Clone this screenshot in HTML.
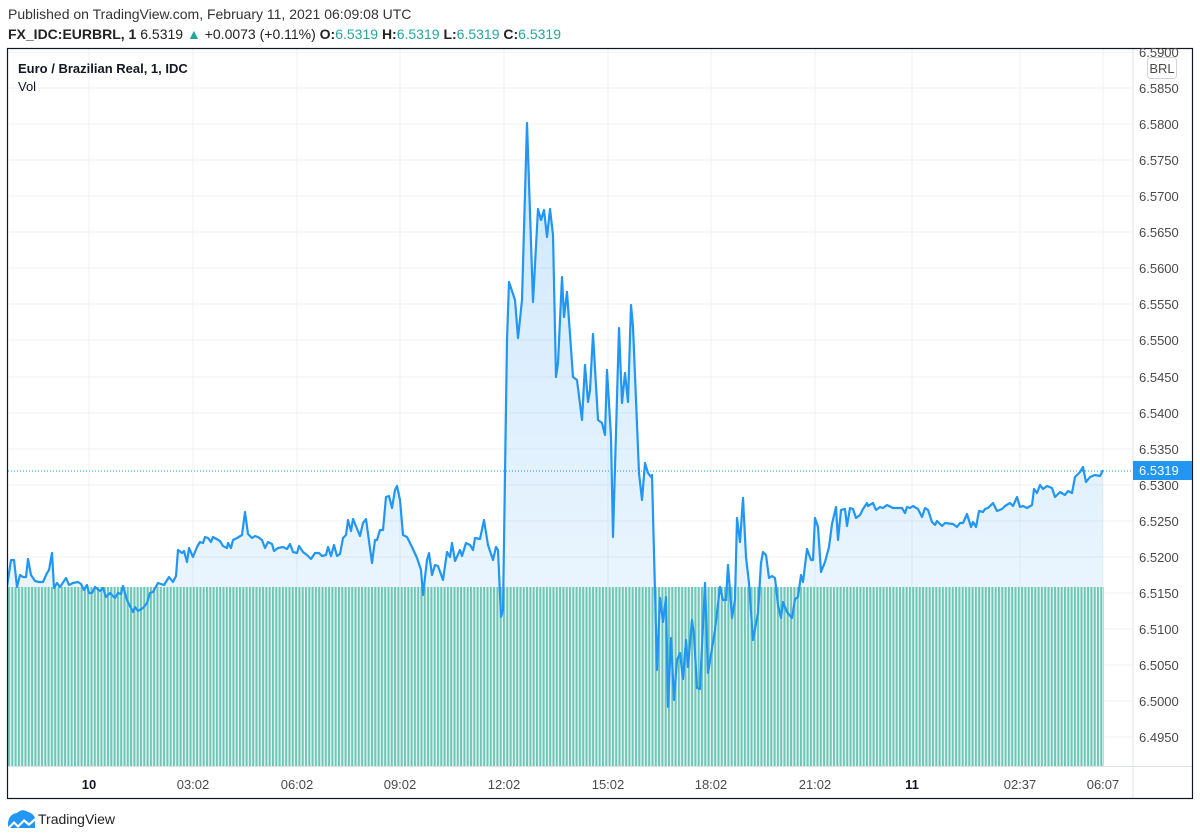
<!DOCTYPE html>
<html><head><meta charset="utf-8"><style>
html,body{margin:0;padding:0;background:#fff;}
svg{display:block;font-family:"Liberation Sans",Arial,sans-serif;}
</style></head><body>
<svg width="1200" height="840" viewBox="0 0 1200 840" xmlns="http://www.w3.org/2000/svg">
<defs>
<linearGradient id="fg" x1="0" y1="0" x2="0" y2="1" gradientUnits="userSpaceOnUse" x1a="0">
<stop offset="0" stop-color="#2196f3" stop-opacity="0.2"/>
<stop offset="1" stop-color="#2196f3" stop-opacity="0.05"/>
</linearGradient>
<linearGradient id="fg2" x1="0" y1="120" x2="0" y2="766" gradientUnits="userSpaceOnUse">
<stop offset="0" stop-color="#2196f3" stop-opacity="0.22"/>
<stop offset="1" stop-color="#2196f3" stop-opacity="0.05"/>
</linearGradient>
<pattern id="vp" x="8" y="0" width="3.3" height="10" patternUnits="userSpaceOnUse">
<rect x="0" y="0" width="2" height="10" fill="#6fc6b6"/>
</pattern>
<clipPath id="cp"><rect x="8" y="49" width="1125" height="718"/></clipPath>
</defs>
<text x="8" y="19" font-size="14" fill="#333">Published on TradingView.com, February 11, 2021 06:09:08 UTC</text>
<text x="8" y="39" font-size="14" fill="#222"><tspan font-weight="bold">FX_IDC:EURBRL, 1</tspan> 6.5319 <tspan fill="#26a69a">▲</tspan> +0.0073 (+0.11%) <tspan font-weight="bold">O:</tspan><tspan fill="#26a69a">6.5319</tspan> <tspan font-weight="bold">H:</tspan><tspan fill="#26a69a">6.5319</tspan> <tspan font-weight="bold">L:</tspan><tspan fill="#26a69a">6.5319</tspan> <tspan font-weight="bold">C:</tspan><tspan fill="#26a69a">6.5319</tspan></text>
<g stroke="#f0f2f6" stroke-width="1">
<line x1="8" x2="1133" y1="52" y2="52"/><line x1="8" x2="1133" y1="88" y2="88"/><line x1="8" x2="1133" y1="124" y2="124"/><line x1="8" x2="1133" y1="160" y2="160"/><line x1="8" x2="1133" y1="196" y2="196"/><line x1="8" x2="1133" y1="232" y2="232"/><line x1="8" x2="1133" y1="268" y2="268"/><line x1="8" x2="1133" y1="304" y2="304"/><line x1="8" x2="1133" y1="340" y2="340"/><line x1="8" x2="1133" y1="377" y2="377"/><line x1="8" x2="1133" y1="413" y2="413"/><line x1="8" x2="1133" y1="449" y2="449"/><line x1="8" x2="1133" y1="485" y2="485"/><line x1="8" x2="1133" y1="521" y2="521"/><line x1="8" x2="1133" y1="557" y2="557"/><line x1="8" x2="1133" y1="593" y2="593"/><line x1="8" x2="1133" y1="629" y2="629"/><line x1="8" x2="1133" y1="665" y2="665"/><line x1="8" x2="1133" y1="701" y2="701"/><line x1="8" x2="1133" y1="737" y2="737"/>
<line x1="89" x2="89" y1="49" y2="766"/><line x1="193" x2="193" y1="49" y2="766"/><line x1="297" x2="297" y1="49" y2="766"/><line x1="400" x2="400" y1="49" y2="766"/><line x1="504" x2="504" y1="49" y2="766"/><line x1="608" x2="608" y1="49" y2="766"/><line x1="711" x2="711" y1="49" y2="766"/><line x1="815" x2="815" y1="49" y2="766"/><line x1="912" x2="912" y1="49" y2="766"/><line x1="1020" x2="1020" y1="49" y2="766"/><line x1="1103" x2="1103" y1="49" y2="766"/>
</g>
<g clip-path="url(#cp)">
<path id="pl" fill="url(#fg2)" stroke="none" d="M7,587 L11,560 14,560 17,587 20,575 23,577 26,577 28,559 31,575 35,581 39,582 43,582 47,573 49,570 52,553 54,588 57,583 60,587 66,578 69,585 73,583 78,582 81,584 84,590 87,585 89,593 92,593 95,587 100,591 103,588 106,597 110,593 115,598 118,593 121,594 123,586 127,600 133,612 135,607 138,611 143,608 147,603 150,593 153,592 158,583 164,585 169,577 173,582 176,576 178,550 182,553 184,551 187,562 189,548 193,557 197,547 200,542 203,543 205,537 208,538 211,542 213,537 220,541 223,546 227,548 228,543 231,548 233,540 237,538 242,535 245,512 248,534 252,538 255,536 258,537 262,540 265,548 268,542 272,544 274,551 278,548 283,547 287,549 290,544 293,552 297,553 299,546 303,552 307,555 311,559 315,553 319,553 322,556 326,555 328,547 331,556 334,545 337,556 340,554 343,538 346,535 348,520 351,531 353,519 360,536 363,523 366,519 372,563 375,540 377,540 380,530 383,530 386,497 389,496 392,508 395,490 397,486 400,500 403,535 407,537 412,547 417,558 421,570 423,595 427,560 429,553 432,575 435,565 438,566 443,580 447,552 450,557 452,543 455,561 460,550 462,556 466,543 470,545 473,550 475,538 480,539 484,520 488,545 493,560 496,547 498,550 501,617 503,610 507,340 509,282 515,300 518,338 522,300 527,123 533,302 538,209 541,220 544,210 547,237 550,209 553,235 556,377 558,363 562,277 564,317 567,292 573,377 577,380 582,420 585,365 588,402 590,390 593,334 598,420 602,423 605,435 607,370 611,437 613,537 619,328 622,403 625,373 628,402 631,305 633,327 639,473 642,500 645,463 648,473 651,477 652,475 657,670 660,598 663,622 666,597 668,707 671,638 674,700 677,660 680,653 683,679 686,640 688,667 692,620 694,635 697,688 700,689 705,583 708,673 715,630 720,587 723,600 726,600 728,565 732,618 735,600 737,518 740,542 743,498 746,557 749,583 753,640 758,613 761,563 763,552 766,555 769,578 772,576 775,578 778,605 781,618 783,602 787,612 792,618 795,599 798,597 801,575 803,582 807,549 811,560 813,560 815,518 818,527 821,572 825,562 829,547 832,524 836,507 838,540 841,510 845,509 847,526 850,508 853,509 856,518 860,515 863,509 867,503 868,506 873,503 876,510 880,507 883,508 887,505 893,508 902,508 905,513 907,507 910,508 913,506 918,509 922,517 925,508 928,510 932,522 935,525 937,521 942,526 945,523 953,524 957,527 960,523 963,523 967,514 971,527 973,522 976,527 979,511 983,512 985,509 988,508 993,503 997,511 1002,509 1005,506 1010,503 1013,506 1017,497 1020,507 1023,506 1027,508 1032,505 1034,489 1037,493 1040,485 1043,489 1047,486 1052,488 1055,497 1060,492 1065,495 1068,491 1072,493 1075,477 1080,472 1083,467 1086,482 1090,477 1095,475 1100,476 1103,470 L1103,766 L7,766 Z"/>
<rect x="8" y="587" width="1096" height="180" fill="#e6f6f3"/>
<rect x="8" y="587" width="1096" height="180" fill="url(#vp)"/>
<line x1="8" x2="1133" y1="471" y2="471" stroke="#2196f3" stroke-width="1" stroke-dasharray="1,2"/>
<path fill="none" stroke="#2196f3" stroke-width="2.2" stroke-linejoin="round" d="M7,587 L11,560 14,560 17,587 20,575 23,577 26,577 28,559 31,575 35,581 39,582 43,582 47,573 49,570 52,553 54,588 57,583 60,587 66,578 69,585 73,583 78,582 81,584 84,590 87,585 89,593 92,593 95,587 100,591 103,588 106,597 110,593 115,598 118,593 121,594 123,586 127,600 133,612 135,607 138,611 143,608 147,603 150,593 153,592 158,583 164,585 169,577 173,582 176,576 178,550 182,553 184,551 187,562 189,548 193,557 197,547 200,542 203,543 205,537 208,538 211,542 213,537 220,541 223,546 227,548 228,543 231,548 233,540 237,538 242,535 245,512 248,534 252,538 255,536 258,537 262,540 265,548 268,542 272,544 274,551 278,548 283,547 287,549 290,544 293,552 297,553 299,546 303,552 307,555 311,559 315,553 319,553 322,556 326,555 328,547 331,556 334,545 337,556 340,554 343,538 346,535 348,520 351,531 353,519 360,536 363,523 366,519 372,563 375,540 377,540 380,530 383,530 386,497 389,496 392,508 395,490 397,486 400,500 403,535 407,537 412,547 417,558 421,570 423,595 427,560 429,553 432,575 435,565 438,566 443,580 447,552 450,557 452,543 455,561 460,550 462,556 466,543 470,545 473,550 475,538 480,539 484,520 488,545 493,560 496,547 498,550 501,617 503,610 507,340 509,282 515,300 518,338 522,300 527,123 533,302 538,209 541,220 544,210 547,237 550,209 553,235 556,377 558,363 562,277 564,317 567,292 573,377 577,380 582,420 585,365 588,402 590,390 593,334 598,420 602,423 605,435 607,370 611,437 613,537 619,328 622,403 625,373 628,402 631,305 633,327 639,473 642,500 645,463 648,473 651,477 652,475 657,670 660,598 663,622 666,597 668,707 671,638 674,700 677,660 680,653 683,679 686,640 688,667 692,620 694,635 697,688 700,689 705,583 708,673 715,630 720,587 723,600 726,600 728,565 732,618 735,600 737,518 740,542 743,498 746,557 749,583 753,640 758,613 761,563 763,552 766,555 769,578 772,576 775,578 778,605 781,618 783,602 787,612 792,618 795,599 798,597 801,575 803,582 807,549 811,560 813,560 815,518 818,527 821,572 825,562 829,547 832,524 836,507 838,540 841,510 845,509 847,526 850,508 853,509 856,518 860,515 863,509 867,503 868,506 873,503 876,510 880,507 883,508 887,505 893,508 902,508 905,513 907,507 910,508 913,506 918,509 922,517 925,508 928,510 932,522 935,525 937,521 942,526 945,523 953,524 957,527 960,523 963,523 967,514 971,527 973,522 976,527 979,511 983,512 985,509 988,508 993,503 997,511 1002,509 1005,506 1010,503 1013,506 1017,497 1020,507 1023,506 1027,508 1032,505 1034,489 1037,493 1040,485 1043,489 1047,486 1052,488 1055,497 1060,492 1065,495 1068,491 1072,493 1075,477 1080,472 1083,467 1086,482 1090,477 1095,475 1100,476 1103,470"/>
</g>
<line x1="1133" x2="1133" y1="49" y2="798" stroke="#e0e3eb"/>
<line x1="8" x2="1192" y1="766.5" y2="766.5" stroke="#e0e3eb"/>
<rect x="7.5" y="48.5" width="1185" height="750" fill="none" stroke="#131722" stroke-width="1.2"/>
<text x="18" y="73" font-size="13" font-weight="bold" fill="#131722">Euro / Brazilian Real, 1, IDC</text>
<text x="18" y="91" font-size="13" fill="#131722">Vol</text>
<g font-size="13" fill="#4a4a4a">
<text x="1139" y="57">6.5900</text><text x="1139" y="93">6.5850</text><text x="1139" y="129">6.5800</text><text x="1139" y="165">6.5750</text><text x="1139" y="201">6.5700</text><text x="1139" y="237">6.5650</text><text x="1139" y="273">6.5600</text><text x="1139" y="309">6.5550</text><text x="1139" y="345">6.5500</text><text x="1139" y="382">6.5450</text><text x="1139" y="418">6.5400</text><text x="1139" y="454">6.5350</text><text x="1139" y="490">6.5300</text><text x="1139" y="526">6.5250</text><text x="1139" y="562">6.5200</text><text x="1139" y="598">6.5150</text><text x="1139" y="634">6.5100</text><text x="1139" y="670">6.5050</text><text x="1139" y="706">6.5000</text><text x="1139" y="742">6.4950</text>
</g>
<rect x="1147.5" y="57.5" width="29" height="21" rx="3" fill="#fff" stroke="#d0d3db"/>
<text x="1162" y="73" font-size="13" fill="#4a4a4a" text-anchor="middle">BRL</text>
<rect x="1133" y="461" width="59" height="19" fill="#2196f3"/>
<text x="1139" y="475" font-size="13" fill="#fff">6.5319</text>
<g font-size="13" fill="#4a4a4a" text-anchor="middle">
<text x="89" y="789" font-weight="bold" fill="#131722">10</text><text x="193" y="789">03:02</text><text x="297" y="789">06:02</text><text x="400" y="789">09:02</text><text x="504" y="789">12:02</text><text x="608" y="789">15:02</text><text x="711" y="789">18:02</text><text x="815" y="789">21:02</text><text x="912" y="789" font-weight="bold" fill="#131722">11</text><text x="1020" y="789">02:37</text><text x="1103" y="789">06:07</text>
</g>
<path d="M8,827 L8,823 Q9,814 17,813 Q22,808 28,812 Q33,813 35,818 L29,823 L24,819 L18,825 L14,821 L8,827 Z M10,828 L14,824 L18,828 L24,822 L29,826 L35,821 L35,828 Z" fill="#2196f3"/>
<text x="38" y="824" font-size="14" fill="#222">TradingView</text>
</svg>
</body></html>
